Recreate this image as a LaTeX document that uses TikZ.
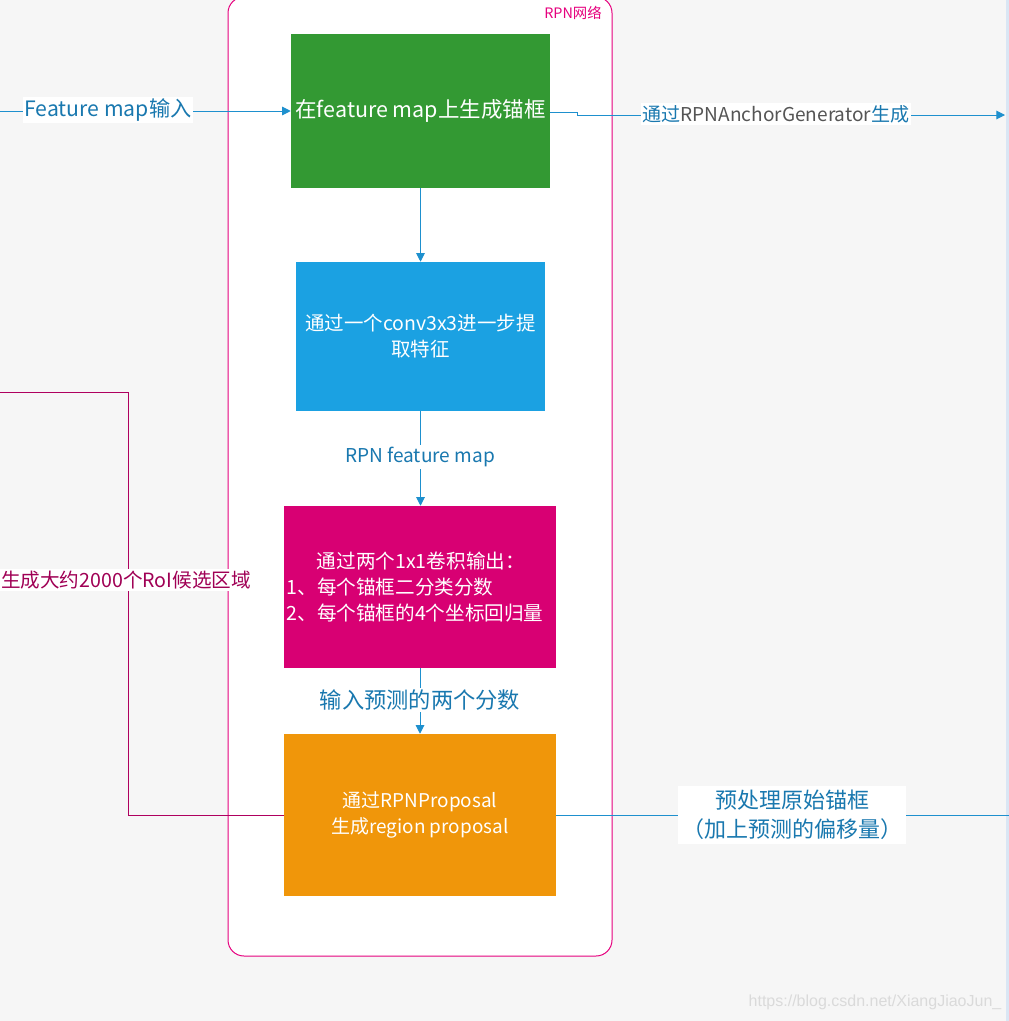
\documentclass[tikz,border=0pt]{standalone}
\usepackage{fontspec}
\setmainfont{Noto Sans CJK SC}
\newfontfamily\wmfont{Liberation Sans}
\usetikzlibrary{arrows.meta}
\definecolor{bgc}{RGB}{246,246,246}
\definecolor{edgec}{RGB}{218,230,244}
\definecolor{rpnc}{RGB}{230,0,126}
\definecolor{greenc}{RGB}{51,153,51}
\definecolor{bluec}{RGB}{27,161,226}
\definecolor{magc}{RGB}{216,0,115}
\definecolor{orangec}{RGB}{240,150,10}
\definecolor{linkc}{RGB}{30,144,206}
\definecolor{lblc}{RGB}{25,120,175}
\definecolor{grayc}{RGB}{85,85,85}
\definecolor{loopc}{RGB}{175,0,95}
\definecolor{looplbl}{RGB}{160,0,85}
\definecolor{wmc}{RGB}{218,218,218}
\begin{document}
\begin{tikzpicture}[x=0.75pt,y=-0.75pt,
  box/.style={rectangle,inner sep=0pt,text=white,align=center},
  link/.style={draw=linkc,line width=0.75pt},
  arr/.style={link,-{Triangle[length=6.5pt,width=6.5pt]}},
  lbl/.style={fill=white,text=lblc,inner sep=1.5pt,align=center},
  loopline/.style={draw=loopc,line width=0.75pt}]
\useasboundingbox (0,0) rectangle (1009,1021);
\fill[bgc] (0,0) rectangle (1009,1021);
\fill[edgec] (1006,0) rectangle (1009,1021);
% container
\node[draw=rpnc,fill=white,line width=0.75pt,rounded corners=12pt,rectangle,inner sep=0pt,
  minimum width={384*0.75pt},minimum height={959*0.75pt}] (rpn) at (420,476.5) {};
\node[text=rpnc,font=\fontsize{10.8}{12}\selectfont,inner sep=0pt] (rpntitle) at (573,13) {RPN网络};
% boxes
\node[box,fill=greenc,minimum width={259*0.75pt},minimum height={154*0.75pt},
  font=\fontsize{16.1}{19}\selectfont] (gen) at (420.5,111) {在feature map上生成锚框};
\node[box,fill=bluec,minimum width={249*0.75pt},minimum height={149*0.75pt},
  font=\fontsize{14.6}{19.5}\selectfont] (conv) at (420.5,336.5) {通过一个conv3x3进一步提\\取特征};
\node[box,fill=magc,minimum width={272*0.75pt},minimum height={162*0.75pt}] (head) at (420,587) {};
\node[text=white,align=left,inner sep=0pt,font=\fontsize{14.7}{19.5}\selectfont] (headtxt) at (415,587)
  {\hspace*{1.55em}通过两个1x1卷积输出：\\1、每个锚框二分类分数\\2、每个锚框的4个坐标回归量};
\node[box,fill=orangec,minimum width={272*0.75pt},minimum height={162*0.75pt},
  font=\fontsize{14.2}{20}\selectfont] (prop) at (420,815) {通过RPNProposal\\生成region proposal};
% coordinates
\coordinate (inA) at (0,111);
\coordinate (outA) at (1005,115);
\coordinate (loopEnd) at (0,392);
\coordinate (outB) at (1009,815);
% connectors
\draw[arr] (inA) -- (gen.west);
\draw[arr] (gen.east |- 0,112) -- (577,112) -- (577,115) -- (outA);
\draw[arr] (gen.south) -- (gen.south |- conv.north);
\draw[arr] (conv.south) -- (conv.south |- head.north);
\draw[arr] (head.south) -- (head.south |- prop.north);
\draw[loopline] (prop.west) -- (128,815) -- (128,392) -- (loopEnd);
\draw[link] (prop.east) -- (outB);
% labels
\node[lbl,font=\fontsize{15.9}{18}\selectfont] (lin) at (108,110) {Feature map输入};
\node[lbl,font=\fontsize{14.3}{17}\selectfont] (lout) at (776,114) {通过{\color{grayc}RPNAnchorGenerator}生成};
\node[lbl,font=\fontsize{14.3}{16}\selectfont] (lfeat) at (420,457) {RPN feature map};
\node[lbl,font=\fontsize{16.7}{19}\selectfont] (lscore) at (420,700) {输入预测的两个分数};
\node[lbl,fill=white,text=looplbl,font=\fontsize{14.7}{17}\selectfont] (lroi) at (126,580) {生成大约2000个RoI候选区域};
\node[lbl,font=\fontsize{16.5}{22}\selectfont,inner sep=3pt] (lpre) at (792,815) {预处理原始锚框\\（加上预测的偏移量）};
% watermark
\node[text=wmc,font=\wmfont\fontsize{12}{14}\selectfont,inner sep=0pt] (wm) at (875,1002) {https://blog.csdn.net/XiangJiaoJun\_};
\end{tikzpicture}
\end{document}
